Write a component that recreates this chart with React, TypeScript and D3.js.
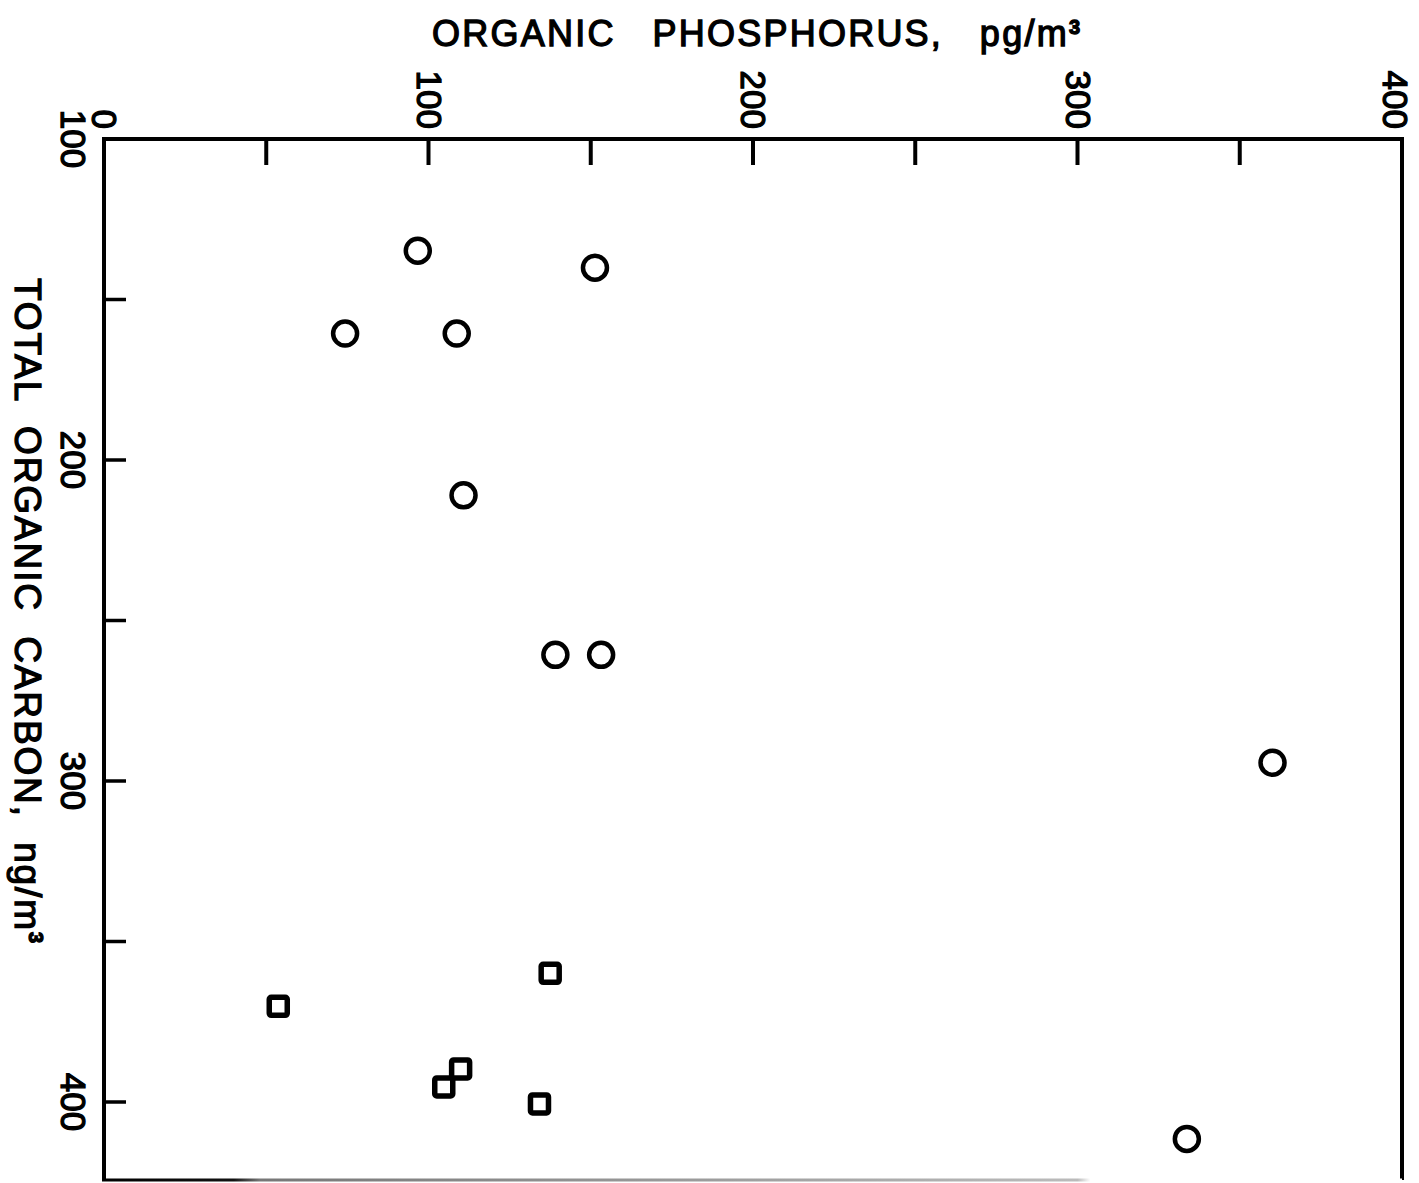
import React, { useRef, useEffect } from "react";
import { select, scaleLinear, range } from "d3";

// organic phosphorus (pg/m3) vs total organic carbon (ng/m3)
const circleP = [96.7, 151.3, 74.3, 108.7, 110.8, 139.1, 153.2, 360.1, 333.7];
const circleC = [134.8, 140.1, 160.6, 160.6, 211.0, 260.7, 260.7, 294.3, 411.5];
const squareP = [137.5, 53.7, 109.9, 104.7, 134.2];
const squareC = [359.9, 370.2, 389.7, 395.3, 400.6];

const xLabels = [0, 100, 200, 300, 400];
const yLabels = [100, 200, 300, 400];

const W = 1419;
const H = 1183;
const FONT = "'Liberation Sans', Arial, Helvetica, sans-serif";

export default function App() {
  const svgRef = useRef<SVGSVGElement>(null);

  useEffect(() => {
    document.body.style.margin = "0";
    const svg = select(svgRef.current);
    svg.selectAll("*").remove();

    const x = scaleLinear().domain([0, 400]).range([104, 1402]);
    const y = scaleLinear().domain([100, 400]).range([139, 1102]);
    const yBottom = y.invert(1180);

    const defs = svg.append("defs");
    const grad = defs.append("linearGradient").attr("id", "fade")
      .attr("gradientUnits", "userSpaceOnUse")
      .attr("x1", x(0)).attr("x2", x(400)).attr("y1", 0).attr("y2", 0);
    grad.append("stop").attr("offset", "0").attr("stop-color", "#000");
    grad.append("stop").attr("offset", "0.1").attr("stop-color", "#111");
    grad.append("stop").attr("offset", "0.12").attr("stop-color", "#777");
    grad.append("stop").attr("offset", "0.75").attr("stop-color", "#bbb");
    grad.append("stop").attr("offset", "0.76").attr("stop-color", "#fff");

    const g = svg.append("g");

    // frame
    g.append("path")
      .attr("d", `M${x(0)},${y(yBottom)} L${x(0)},${y(100)} L${x(400)},${y(100)} L${x(400)},${y(yBottom)}`)
      .attr("fill", "none").attr("stroke", "#000").attr("stroke-width", 4);
    g.append("line")
      .attr("x1", x(0) - 2).attr("x2", x(400)).attr("y1", y(yBottom)).attr("y2", y(yBottom))
      .attr("stroke", "url(#fade)").attr("stroke-width", 3);

    // ticks, pointing inward
    g.selectAll(".xt").data(range(50, 400, 50)).enter().append("line")
      .attr("x1", (d) => x(d)).attr("x2", (d) => x(d))
      .attr("y1", y(100)).attr("y2", y(100) + 26)
      .attr("stroke", "#000").attr("stroke-width", 4);
    g.selectAll(".yt").data(range(150, 450, 50)).enter().append("line")
      .attr("x1", x(0)).attr("x2", x(0) + 22)
      .attr("y1", (d) => y(d)).attr("y2", (d) => y(d))
      .attr("stroke", "#000").attr("stroke-width", 3.5);

    const heavy = (sel: any) => sel
      .attr("font-family", FONT)
      .attr("stroke", "#000").attr("stroke-width", 1.3).attr("fill", "#000");

    // tick labels, rotated clockwise
    g.selectAll(".xl").data(xLabels).enter().append("text")
      .attr("transform", (d) => `translate(${Math.min(x(d) - 12, 1383)},129) rotate(90)`)
      .attr("text-anchor", "end")
      .attr("font-size", 35)
      .call(heavy)
      .text((d) => d);
    g.selectAll(".yl").data(yLabels).enter().append("text")
      .attr("transform", (d) => `translate(61,${y(d)}) rotate(90)`)
      .attr("text-anchor", "middle")
      .attr("font-size", 35)
      .call(heavy)
      .text((d) => d);

    // axis titles
    const xt = g.append("text")
      .attr("x", 432).attr("y", 46)
      .attr("textLength", 648).attr("lengthAdjust", "spacing")
      .attr("font-size", 36)
      .call(heavy)
      .style("white-space", "pre");
    xt.append("tspan").text("ORGANIC   PHOSPHORUS,   pg/m");
    xt.append("tspan").attr("dy", -12).attr("font-size", 20).attr("font-weight", "bold").text("3");

    const yt = g.append("text")
      .attr("transform", "translate(15,278) rotate(90)")
      .attr("textLength", 665).attr("lengthAdjust", "spacing")
      .attr("font-size", 37)
      .call(heavy)
      .style("white-space", "pre");
    yt.append("tspan").text("TOTAL  ORGANIC  CARBON,  ng/m");
    yt.append("tspan").attr("dy", -14).attr("font-size", 20).attr("font-weight", "bold").text("3");

    // points
    const circles = circleP.map((p, i) => ({ p, c: circleC[i] }));
    const squares = squareP.map((p, i) => ({ p, c: squareC[i] }));

    g.selectAll(".circ").data(circles).enter().append("circle")
      .attr("cx", (d) => x(d.p)).attr("cy", (d) => y(d.c)).attr("r", 12)
      .attr("fill", "none").attr("stroke", "#000").attr("stroke-width", 4.5);

    const s = 18;
    g.selectAll(".sq").data(squares).enter().append("rect")
      .attr("x", (d) => x(d.p) - s / 2).attr("y", (d) => y(d.c) - s / 2)
      .attr("width", s).attr("height", s).attr("rx", 2)
      .attr("fill", "none").attr("stroke", "#000").attr("stroke-width", 5.5);
  }, []);

  return (
    <div style={{ position: "absolute", left: 0, top: 0 }}>
      <svg ref={svgRef} width={W} height={H} style={{ display: "block", background: "#fff" }}></svg>
    </div>
  );
}
